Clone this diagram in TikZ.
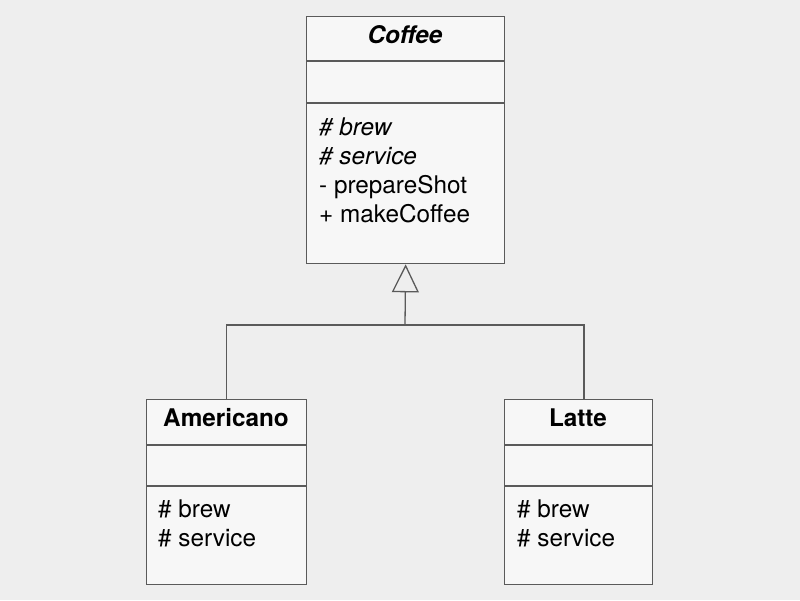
\documentclass[tikz,border=0pt]{standalone}
\usepackage{fontspec}
\setmainfont{TeX Gyre Heros}
\usetikzlibrary{arrows.meta}
\definecolor{bgcol}{HTML}{EEEEEE}
\definecolor{boxcol}{HTML}{F7F7F7}
\definecolor{linecol}{HTML}{5A5A5A}
\tikzset{
  classbox/.style={draw=linecol,fill=boxcol,line width=1.3pt,anchor=north west,inner sep=0pt},
  member/.style={anchor=base west,inner sep=0pt,font=\fontsize{24.3}{29}\selectfont},
  title/.style={anchor=base,inner sep=0pt,font=\fontsize{24.3}{29}\selectfont\bfseries},
  link/.style={draw=linecol,line width=1.3pt}
}
\begin{document}
\begin{tikzpicture}[x=1pt,y=-1pt]
\fill[bgcol] (0,0) rectangle (800,600);
\useasboundingbox (0,0) rectangle (800,600);
\node[classbox,minimum width=198pt,minimum height=247pt] (coffee) at (306,16) {};
\draw[link] (306,61)--(504,61);
\draw[link] (306,103)--(504,103);
\node[title,font=\fontsize{24.3}{29}\selectfont\bfseries\itshape] (coffeename) at (405,43) {Coffee};
\node[member] (cbrew) at (319,135) {\itshape\# brew};
\node[member] (cservice) at (319,164) {\itshape\# service};
\node[member] (cshot) at (319,193) {- prepareShot};
\node[member] (cmake) at (319,222) {+ makeCoffee};
\node[classbox,minimum width=160pt,minimum height=185pt] (americano) at (146,399) {};
\draw[link] (146,445)--(306,445);
\draw[link] (146,486)--(306,486);
\node[title] (americanoname) at (226,426) {Americano};
\node[member] (abrew) at (158,517) {\# brew};
\node[member] (aservice) at (158,546) {\# service};
\node[classbox,minimum width=148pt,minimum height=185pt] (latte) at (504,399) {};
\draw[link] (504,445)--(652,445);
\draw[link] (504,486)--(652,486);
\node[title] (lattename) at (578,426) {Latte};
\node[member] (lbrew) at (517,517) {\# brew};
\node[member] (lservice) at (517,546) {\# service};
\coordinate (hub) at (405,325);
\coordinate (latteend) at (584,399);
\draw[link] (americano.north) |- (hub) -| (latteend);
\draw[link,-{Triangle[open,length=28pt,width=27pt]}] (hub)--(coffee.south);
\end{tikzpicture}
\end{document}
